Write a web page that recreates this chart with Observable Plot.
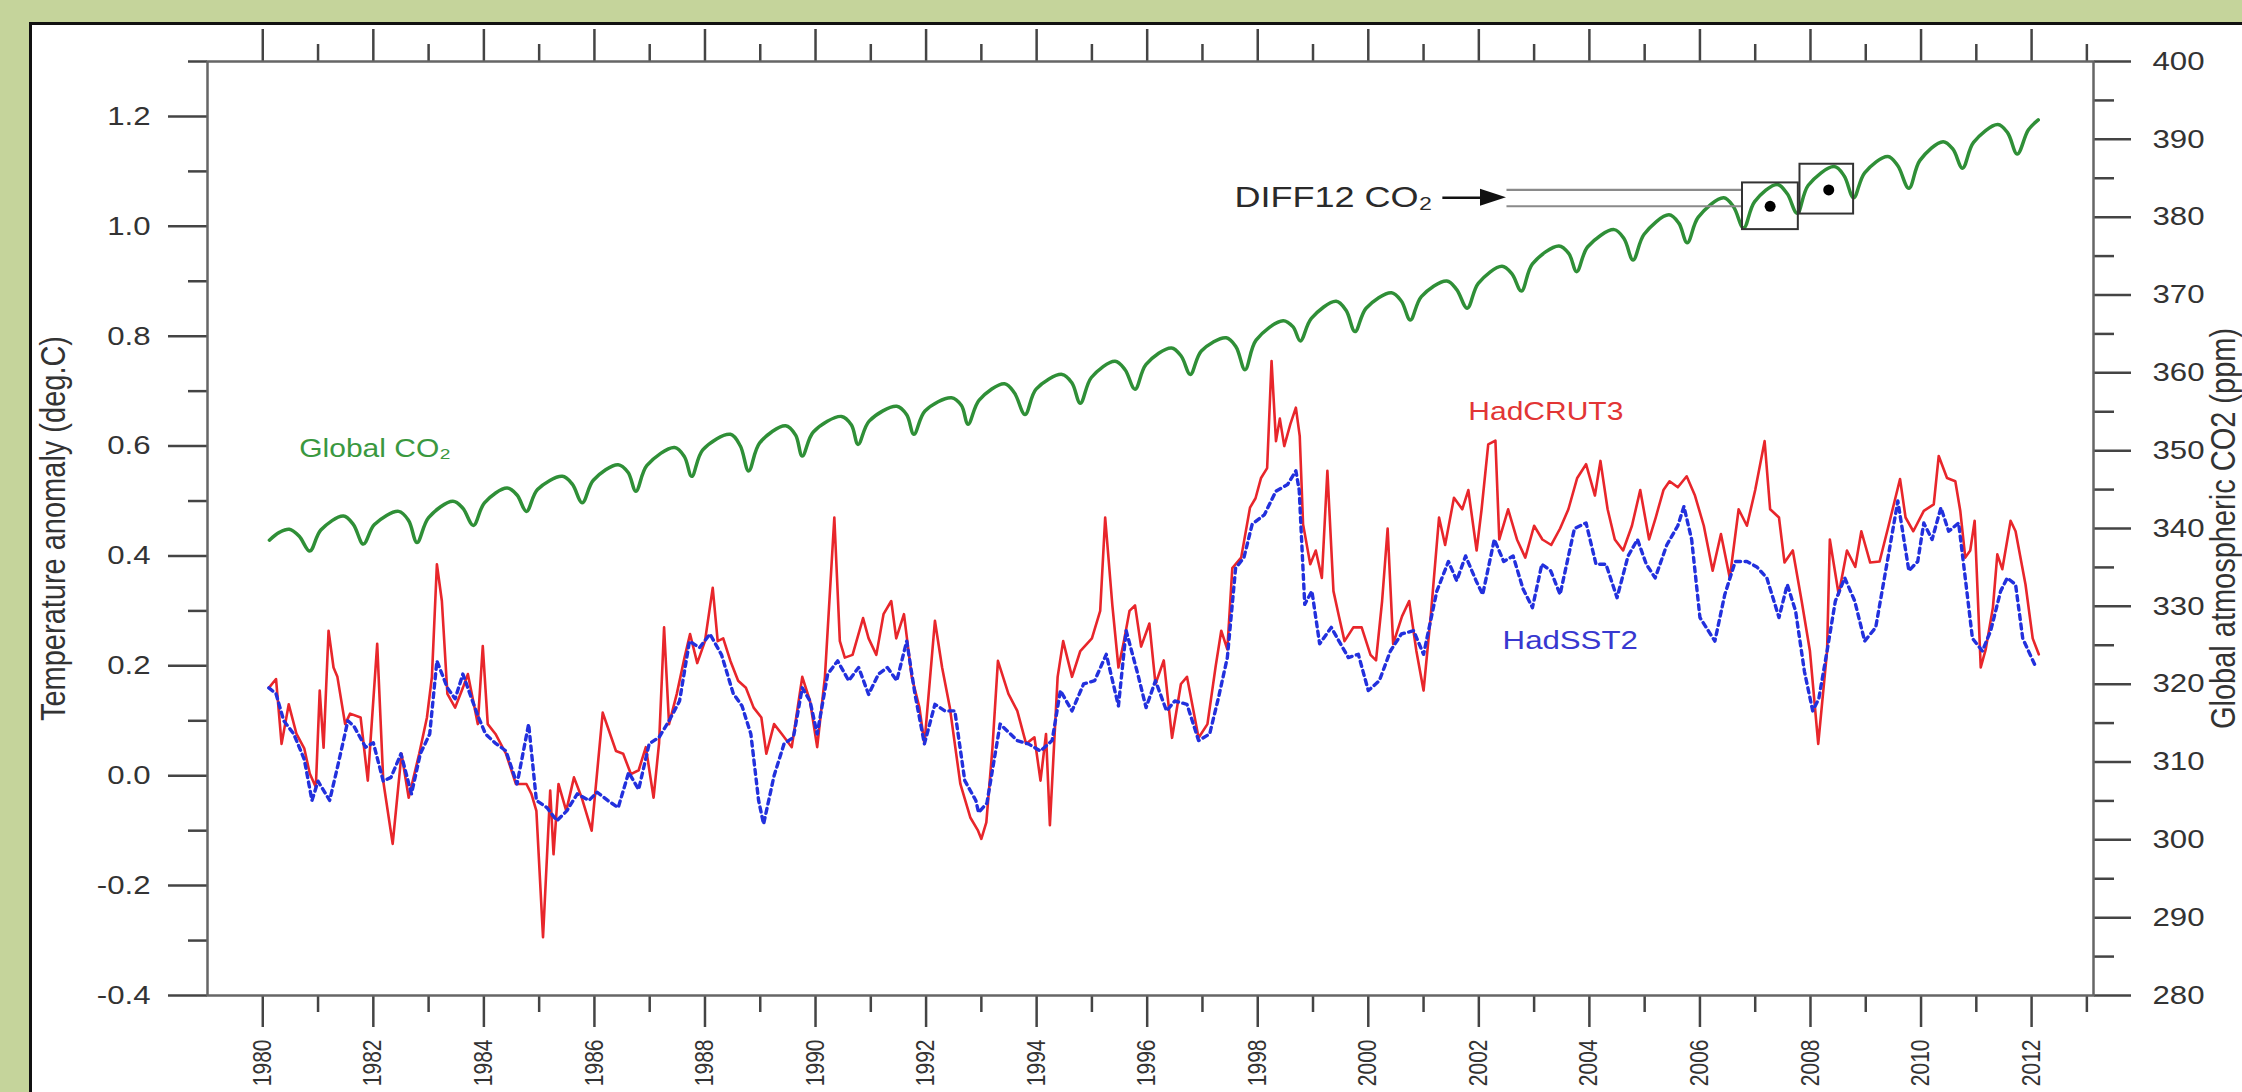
<!DOCTYPE html>
<html><head><meta charset="utf-8">
<script src="https://cdn.jsdelivr.net/npm/d3@7"></script>
<script src="https://cdn.jsdelivr.net/npm/@observablehq/plot@0.6"></script>
<style>
html,body{margin:0;padding:0;background:#c5d49b;width:2242px;height:1092px;overflow:hidden;}
#panel{position:absolute;left:29px;top:22px;width:2213px;height:1070px;background:#fff;border-left:3px solid #111;border-top:3px solid #111;overflow:hidden;}
#panel svg{display:block;}
</style></head><body><div id="panel"></div>
<script>
// ---------- data ----------
const yearMajor = [1980,1982,1984,1986,1988,1990,1992,1994,1996,1998,2000,2002,2004,2006,2008,2010,2012];
const yearMinor = [1981,1983,1985,1987,1989,1991,1993,1995,1997,1999,2001,2003,2005,2007,2009,2011,2013];
const tempMajor = [-0.4,-0.2,0,0.2,0.4,0.6,0.8,1.0,1.2];
const tempMinor = [-0.3,-0.1,0.1,0.3,0.5,0.7,0.9,1.1,1.3];
const co2Major = [280,290,300,310,320,330,340,350,360,370,380,390,400];
const co2Minor = [285,295,305,315,325,335,345,355,365,375,385,395];

// HadCRUT3 monthly temperature anomaly (year, deg C)
const hadcrut3 = [
[1980.11,0.16],[1980.24,0.176],[1980.34,0.058],[1980.47,0.13],[1980.61,0.076],[1980.75,0.05],[1980.85,0.004],[1980.96,-0.021],
[1981.03,0.155],[1981.1,0.051],[1981.19,0.264],[1981.28,0.197],[1981.35,0.18],[1981.49,0.094],[1981.58,0.113],[1981.77,0.106],[1981.9,-0.009],
[1982.07,0.24],[1982.18,-0.01],[1982.35,-0.124],[1982.51,0.04],[1982.64,-0.04],[1982.83,0.04],[1982.97,0.106],
[1983.06,0.18],[1983.15,0.385],[1983.24,0.318],[1983.34,0.149],[1983.48,0.124],[1983.62,0.16],[1983.71,0.185],[1983.89,0.094],[1983.98,0.236],
[1984.07,0.094],[1984.21,0.076],[1984.4,0.04],[1984.58,-0.015],[1984.77,-0.015],[1984.86,-0.033],[1984.95,-0.064],
[1985.07,-0.294],[1985.2,-0.027],[1985.26,-0.143],[1985.35,-0.015],[1985.49,-0.064],[1985.63,-0.003],[1985.77,-0.04],[1985.95,-0.1],
[1986.15,0.115],[1986.39,0.045],[1986.52,0.04],[1986.66,0.003],[1986.8,0.01],[1986.93,0.052],
[1987.07,-0.04],[1987.17,0.06],[1987.26,0.27],[1987.35,0.094],[1987.49,0.149],[1987.63,0.215],[1987.73,0.258],[1987.86,0.205],
[1988.0,0.245],[1988.14,0.342],[1988.23,0.245],[1988.33,0.25],[1988.46,0.209],[1988.6,0.173],[1988.74,0.16],[1988.88,0.124],
[1989.02,0.106],[1989.11,0.04],[1989.25,0.094],[1989.39,0.076],[1989.57,0.052],[1989.76,0.18],[1989.9,0.136],
[1990.03,0.052],[1990.17,0.18],[1990.34,0.47],[1990.44,0.245],[1990.53,0.215],[1990.67,0.22],[1990.86,0.287],[1990.96,0.25],
[1991.1,0.22],[1991.23,0.294],[1991.37,0.318],[1991.46,0.25],[1991.6,0.294],[1991.74,0.18],[1991.88,0.124],[1991.97,0.058],
[1992.16,0.282],[1992.29,0.197],[1992.43,0.124],[1992.62,-0.015],[1992.8,-0.076],[1992.94,-0.1],
[1993.0,-0.115],[1993.09,-0.085],[1993.2,0.05],[1993.3,0.209],[1993.49,0.149],[1993.65,0.118],[1993.81,0.058],[1993.96,0.07],
[1994.07,-0.009],[1994.17,0.076],[1994.24,-0.09],[1994.38,0.18],[1994.48,0.245],[1994.64,0.18],[1994.79,0.227],
[1995.0,0.25],[1995.15,0.3],[1995.24,0.47],[1995.37,0.31],[1995.48,0.197],[1995.57,0.24],[1995.68,0.3],[1995.78,0.31],[1995.89,0.235],
[1996.04,0.277],[1996.15,0.167],[1996.3,0.21],[1996.45,0.069],[1996.61,0.167],[1996.72,0.18],[1996.93,0.069],
[1997.09,0.094],[1997.24,0.2],[1997.34,0.264],[1997.45,0.23],[1997.54,0.378],[1997.7,0.397],[1997.86,0.488],[1997.96,0.505],
[1998.06,0.542],[1998.17,0.56],[1998.25,0.755],[1998.33,0.609],[1998.4,0.65],[1998.48,0.6],[1998.59,0.64],[1998.69,0.67],[1998.76,0.618],[1998.82,0.458],[1998.95,0.385],
[1999.05,0.41],[1999.16,0.36],[1999.26,0.555],[1999.37,0.336],[1999.47,0.29],[1999.57,0.245],[1999.73,0.27],[1999.88,0.27],
[2000.04,0.22],[2000.14,0.21],[2000.25,0.318],[2000.35,0.45],[2000.45,0.24],[2000.61,0.29],[2000.74,0.318],[2000.87,0.227],
[2001.0,0.155],[2001.13,0.291],[2001.28,0.47],[2001.39,0.42],[2001.55,0.506],[2001.7,0.485],[2001.81,0.52],[2001.96,0.41],
[2002.05,0.485],[2002.17,0.603],[2002.3,0.61],[2002.37,0.43],[2002.53,0.485],[2002.69,0.43],[2002.84,0.397],
[2003.0,0.455],[2003.15,0.43],[2003.31,0.42],[2003.47,0.45],[2003.62,0.485],[2003.78,0.542],[2003.94,0.567],
[2004.1,0.51],[2004.2,0.573],[2004.33,0.485],[2004.46,0.43],[2004.61,0.41],[2004.77,0.455],[2004.92,0.52],
[2005.08,0.43],[2005.2,0.47],[2005.34,0.52],[2005.45,0.536],[2005.6,0.525],[2005.76,0.545],[2005.91,0.51],
[2006.07,0.455],[2006.23,0.373],[2006.38,0.44],[2006.54,0.36],[2006.7,0.485],[2006.85,0.455],
[2007.0,0.52],[2007.17,0.609],[2007.27,0.485],[2007.43,0.47],[2007.53,0.388],[2007.68,0.41],[2007.84,0.318],[2007.99,0.227],
[2008.14,0.058],[2008.3,0.227],[2008.35,0.43],[2008.51,0.33],[2008.66,0.41],[2008.81,0.38],[2008.92,0.445],
[2009.08,0.388],[2009.25,0.39],[2009.4,0.45],[2009.62,0.54],[2009.72,0.47],[2009.86,0.445],
[2010.05,0.482],[2010.23,0.494],[2010.32,0.582],[2010.47,0.542],[2010.62,0.536],[2010.71,0.482],[2010.8,0.397],[2010.89,0.41],[2010.97,0.464],
[2011.08,0.197],[2011.17,0.23],[2011.3,0.306],[2011.38,0.403],[2011.47,0.376],[2011.62,0.464],[2011.71,0.445],[2011.89,0.348],
[2012.02,0.25],[2012.13,0.221]
];

// HadSST2 monthly sea surface temperature anomaly (year, deg C)
const hadsst2 = [
[1980.11,0.16],[1980.24,0.149],[1980.38,0.1],[1980.56,0.076],[1980.75,0.03],[1980.89,-0.045],
[1981.0,-0.01],[1981.21,-0.045],[1981.35,0.015],[1981.54,0.1],[1981.65,0.09],[1981.86,0.052],
[1982.0,0.06],[1982.18,-0.01],[1982.32,-0.003],[1982.5,0.04],[1982.69,-0.033],[1982.85,0.04],
[1983.02,0.076],[1983.15,0.209],[1983.34,0.16],[1983.48,0.14],[1983.62,0.185],[1983.78,0.14],[1983.9,0.107],
[1984.03,0.076],[1984.2,0.06],[1984.4,0.045],[1984.6,-0.015],[1984.81,0.094],[1984.95,-0.045],
[1985.14,-0.058],[1985.32,-0.082],[1985.5,-0.064],[1985.69,-0.033],[1985.9,-0.045],
[1986.05,-0.03],[1986.24,-0.045],[1986.43,-0.058],[1986.62,0.006],[1986.8,-0.025],[1986.99,0.058],
[1987.17,0.07],[1987.35,0.1],[1987.54,0.136],[1987.72,0.245],[1987.9,0.233],
[1988.09,0.258],[1988.3,0.22],[1988.51,0.15],[1988.67,0.127],[1988.83,0.076],[1988.97,-0.045],
[1989.06,-0.088],[1989.25,0.0],[1989.43,0.058],[1989.6,0.07],[1989.76,0.16],[1989.9,0.136],
[1990.03,0.076],[1990.22,0.185],[1990.4,0.209],[1990.6,0.173],[1990.78,0.197],[1990.96,0.148],
[1991.14,0.185],[1991.3,0.197],[1991.47,0.173],[1991.65,0.245],[1991.8,0.148],[1991.97,0.058],
[1992.16,0.13],[1992.34,0.118],[1992.52,0.118],[1992.7,-0.009],[1992.9,-0.045],[1992.95,-0.067],
[1993.1,-0.05],[1993.34,0.094],[1993.65,0.064],[1993.85,0.058],
[1994.07,0.045],[1994.28,0.064],[1994.43,0.155],[1994.64,0.118],[1994.85,0.167],
[1995.05,0.173],[1995.26,0.221],[1995.48,0.127],[1995.62,0.264],[1995.83,0.185],[1995.98,0.124],
[1996.15,0.173],[1996.35,0.118],[1996.5,0.136],[1996.72,0.13],[1996.93,0.064],
[1997.13,0.076],[1997.29,0.142],[1997.45,0.215],[1997.6,0.378],[1997.75,0.397],[1997.9,0.458],
[1998.12,0.475],[1998.33,0.518],[1998.54,0.53],[1998.69,0.555],[1998.75,0.52],[1998.85,0.312],[1998.98,0.336],
[1999.12,0.24],[1999.33,0.27],[1999.47,0.245],[1999.64,0.215],[1999.82,0.221],
[2000.0,0.155],[2000.2,0.173],[2000.4,0.227],[2000.6,0.258],[2000.82,0.264],
[2001.0,0.221],[2001.24,0.336],[2001.45,0.39],[2001.6,0.355],[2001.76,0.4],[2001.95,0.355],
[2002.07,0.33],[2002.28,0.43],[2002.45,0.39],[2002.62,0.4],[2002.8,0.34],[2002.97,0.306],
[2003.14,0.385],[2003.3,0.373],[2003.47,0.33],[2003.73,0.45],[2003.94,0.46],
[2004.12,0.385],[2004.3,0.385],[2004.5,0.324],[2004.7,0.4],[2004.87,0.43],
[2005.03,0.385],[2005.19,0.36],[2005.4,0.42],[2005.6,0.455],[2005.71,0.49],[2005.85,0.43],
[2006.0,0.288],[2006.27,0.245],[2006.45,0.33],[2006.64,0.39],[2006.85,0.39],
[2007.03,0.38],[2007.21,0.36],[2007.43,0.288],[2007.58,0.348],[2007.73,0.3],[2007.89,0.19],
[2008.04,0.118],[2008.15,0.14],[2008.3,0.227],[2008.45,0.318],[2008.62,0.36],[2008.8,0.318],[2008.98,0.245],
[2009.18,0.27],[2009.39,0.39],[2009.58,0.5],[2009.78,0.373],[2009.94,0.39],
[2010.05,0.46],[2010.2,0.43],[2010.36,0.488],[2010.5,0.445],[2010.68,0.46],[2010.8,0.36],[2010.93,0.25],
[2011.11,0.227],[2011.26,0.264],[2011.44,0.336],[2011.56,0.36],[2011.71,0.348],[2011.84,0.25],[2011.93,0.23],
[2012.08,0.197]
];

// Global atmospheric CO2 (year, ppm)
const globalCO2 = [
[1980.12,338.5],[1980.3,339.5],[1980.48,339.9],[1980.66,339.0],[1980.85,337.1],
[1981.05,339.8],[1981.46,341.6],[1981.64,340.5],[1981.82,338.0],
[1982.02,340.5],[1982.46,342.2],[1982.64,341.0],[1982.79,338.2],
[1983.0,341.4],[1983.44,343.5],[1983.62,342.6],[1983.81,340.4],
[1984.01,343.3],[1984.42,345.2],[1984.6,344.3],[1984.77,342.2],
[1984.97,345.0],[1985.42,346.7],[1985.6,345.7],[1985.78,343.3],
[1985.98,346.2],[1986.43,348.2],[1986.61,347.2],[1986.75,344.8],
[1986.95,348.1],[1987.45,350.4],[1987.63,349.2],[1987.76,346.7],
[1987.96,350.1],[1988.46,352.1],[1988.64,350.6],[1988.79,347.4],
[1988.99,351.0],[1989.46,353.2],[1989.64,352.0],[1989.76,349.3],
[1989.96,352.4],[1990.47,354.4],[1990.65,353.3],[1990.77,350.8],
[1990.97,353.8],[1991.47,355.7],[1991.65,354.6],[1991.78,352.1],
[1991.98,355.1],[1992.46,356.8],[1992.64,355.8],[1992.76,353.4],
[1992.96,356.5],[1993.42,358.6],[1993.6,357.4],[1993.79,354.65],
[1993.99,357.9],[1994.46,359.8],[1994.64,358.7],[1994.79,356.1],
[1994.99,359.4],[1995.42,361.5],[1995.6,360.4],[1995.78,357.9],
[1995.98,361.1],[1996.44,363.2],[1996.62,362.1],[1996.78,359.8],
[1996.98,362.8],[1997.43,364.5],[1997.61,363.3],[1997.77,360.4],
[1997.97,364.2],[1998.46,366.7],[1998.64,365.9],[1998.77,364.1],
[1998.97,367.0],[1999.42,369.2],[1999.6,368.0],[1999.76,365.3],
[1999.96,368.3],[2000.42,370.3],[2000.6,369.2],[2000.76,366.8],
[2000.96,369.8],[2001.42,371.8],[2001.6,370.7],[2001.79,368.3],
[2001.99,371.5],[2002.42,373.7],[2002.6,372.7],[2002.77,370.5],
[2002.97,374.0],[2003.45,376.3],[2003.63,375.3],[2003.77,373.0],
[2003.97,376.2],[2004.45,378.4],[2004.63,377.2],[2004.79,374.5],
[2004.99,377.8],[2005.44,380.3],[2005.62,379.2],[2005.77,376.7],
[2005.97,380.0],[2006.43,382.5],[2006.61,381.3],[2006.79,378.6],
[2006.99,382.0],[2007.4,384.2],[2007.58,383.0],[2007.76,380.5],
[2007.96,384.1],[2008.43,386.5],[2008.61,385.3],[2008.78,382.5],
[2008.98,385.7],[2009.4,387.8],[2009.58,386.6],[2009.78,383.7],
[2009.98,387.3],[2010.4,389.7],[2010.58,388.7],[2010.75,386.3],
[2010.95,389.6],[2011.39,391.9],[2011.57,390.8],[2011.74,388.1],
[2011.94,391.2],[2012.12,392.5]
];

// DIFF12 annotation: two consecutive 12-month windows (year span, ppm span, mean)
const diffStart = [2006.77, 2007.81];
const diffEnd   = [2007.78, 2008.78];
const diffMin   = [378.4, 380.4];
const diffMax   = [384.4, 386.8];
const diffMeanYear = [2007.27, 2008.33];
const diffMean     = [381.4, 383.5];
const diffArrowFrom = 2001.34, diffArrowTip = 2002.5, diffArrowLevel = 382.5;

// ---------- secondary (CO2) axis mapping onto the temperature scale ----------
const tLo = -0.4, tHi = 1.3, cLo = 280, cHi = 400;
const toT = c => (c - cLo) / (cHi - cLo) * (tHi - tLo) + tLo;
const toC = t => (t - tLo) / (tHi - tLo) * (cHi - cLo) + cLo;

const red = hadcrut3.map(([x, y]) => ({x, y}));
const blue = hadsst2.map(([x, y]) => ({x, y}));
const green = globalCO2.map(([x, c]) => ({x, y: toT(c)}));
const boxes = diffStart.map((s, i) => ({x1: s, x2: diffEnd[i], y1: toT(diffMin[i]), y2: toT(diffMax[i])}));
const dots = diffMeanYear.map((x, i) => ({x, y: toT(diffMean[i])}));
const guide = diffMean.map(c => ({x1: diffArrowTip, x2: diffStart[0], y: toT(c)}));
const head = [
  {x: diffArrowTip - 0.47, y1: toT(diffArrowLevel - 1.1), y2: toT(diffArrowLevel + 1.1)},
  {x: diffArrowTip, y1: toT(diffArrowLevel), y2: toT(diffArrowLevel)}
];

const W = 2210, H = 1067;
const tickColor = "#444";
const FONT = "'Liberation Sans', Arial, sans-serif";

const chart = Plot.plot({
  width: W, height: H,
  marginLeft: 175, marginRight: 149, marginTop: 36, marginBottom: 97,
  x: {domain: [1979, 2013.12]},
  y: {domain: [tLo, tHi]},
  style: {background: "white", fontFamily: FONT, fontSize: "26px", color: "#333", overflow: "hidden"},
  marks: [
    // left axis
    Plot.axisY({ticks: tempMajor, tickSize: 39, tickPadding: 18, tickFormat: d => d.toFixed(1), label: null, stroke: tickColor, strokeWidth: 2.5, fontSize: 26}),
    Plot.axisY({ticks: tempMinor, tickSize: 19, tickFormat: () => "", label: null, stroke: tickColor, strokeWidth: 2.5}),
    // right axis (CO2)
    Plot.axisY({anchor: "right", ticks: co2Major.map(toT), tickSize: 37, tickPadding: 22, tickFormat: t => String(Math.round(toC(t))), label: null, stroke: tickColor, strokeWidth: 2.5, fontSize: 26}),
    Plot.axisY({anchor: "right", ticks: co2Minor.map(toT), tickSize: 20, tickFormat: () => "", label: null, stroke: tickColor, strokeWidth: 2.5}),
    // bottom axis
    Plot.axisX({ticks: yearMajor, tickSize: 32, tickPadding: 12, tickRotate: -90, tickFormat: d => String(d), label: null, stroke: tickColor, strokeWidth: 2.5, fontSize: 21}),
    Plot.axisX({ticks: yearMinor, tickSize: 17, tickFormat: () => "", label: null, stroke: tickColor, strokeWidth: 2.5}),
    // top axis (ticks only)
    Plot.axisX({anchor: "top", ticks: yearMajor, tickSize: 33, tickFormat: () => "", label: null, stroke: tickColor, strokeWidth: 2.5}),
    Plot.axisX({anchor: "top", ticks: yearMinor, tickSize: 18, tickFormat: () => "", label: null, stroke: tickColor, strokeWidth: 2.5}),
    Plot.frame({stroke: "#666", strokeWidth: 2.5}),

    // series
    Plot.line(green, {x: "x", y: "y", stroke: "#2f8f37", strokeWidth: 3.5, curve: "catmull-rom"}),
    Plot.line(red, {x: "x", y: "y", stroke: "#e8262b", strokeWidth: 2.6}),
    Plot.line(blue, {x: "x", y: "y", stroke: "#2230dd", strokeWidth: 3.4, strokeDasharray: "5,4.5"}),

    // DIFF12 annotation
    Plot.link(guide, {x1: "x1", x2: "x2", y1: "y", y2: "y", stroke: "#8a8a8a", strokeWidth: 2.2}),
    Plot.rect(boxes, {x1: "x1", x2: "x2", y1: "y1", y2: "y2", fill: "none", stroke: "#333", strokeWidth: 2}),
    Plot.dot(dots, {x: "x", y: "y", r: 5.5, fill: "#000", stroke: "none"}),
    Plot.link([{x1: diffArrowFrom, x2: diffArrowTip - 0.4, y: toT(diffArrowLevel)}], {x1: "x1", x2: "x2", y1: "y", y2: "y", stroke: "#111", strokeWidth: 2.5}),
    Plot.areaY(head, {x: "x", y1: "y1", y2: "y2", fill: "#111"}),
    Plot.text(["DIFF12 CO₂"], {x: 2001.16, y: 1.053, text: d => d, textAnchor: "end", lineAnchor: "middle", fontSize: 30, fill: "#2a2a2a"}),

    // series labels
    Plot.text(["Global CO₂"], {x: 1980.66, y: 0.5945, text: d => d, textAnchor: "start", lineAnchor: "middle", fontSize: 25, fill: "#3a983f"}),
    Plot.text(["HadCRUT3"], {x: 2001.81, y: 0.662, text: d => d, textAnchor: "start", lineAnchor: "middle", fontSize: 25, fill: "#e23535"}),
    Plot.text(["HadSST2"], {x: 2002.43, y: 0.2455, text: d => d, textAnchor: "start", lineAnchor: "middle", fontSize: 26, fill: "#3838d0"}),

    // axis titles
    Plot.text(["Temperature anomaly (deg.C)"], {frameAnchor: "left", dx: -143, rotate: -90, text: d => d, textAnchor: "middle", lineAnchor: "bottom", fontSize: 29, fill: "#333", ariaLabel: "axis-title"}),
    Plot.text(["Global atmospheric CO2 (ppm)"], {frameAnchor: "right", dx: 141, rotate: -90, text: d => d, textAnchor: "middle", lineAnchor: "bottom", fontSize: 29, fill: "#333", ariaLabel: "axis-title"})
  ]
});

// the reference's lettering is horizontally widened; widen glyphs around their anchors
chart.querySelectorAll("text").forEach(t => {
  if (t.closest('[aria-label="axis-title"]')) return;
  const tr = t.getAttribute("transform");
  if (tr && /^translate\(/.test(tr)) {
    t.setAttribute("transform", tr.replace(/^(translate\([^)]*\))/, "$1 scale(1.2,1)"));
  }
});

document.getElementById("panel").appendChild(chart);
</script></body></html>
